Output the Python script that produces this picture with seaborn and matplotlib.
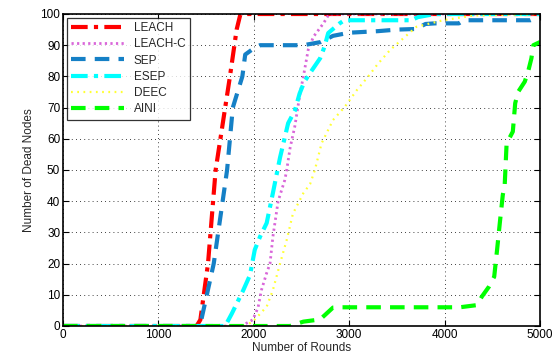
import numpy as np
import pandas as pd
import matplotlib
matplotlib.use("Agg")
import matplotlib.pyplot as plt
import seaborn as sns

# ---- data ----
leach_x = [0, 1400, 1440, 1520, 1600, 1700, 1750, 1820, 1860, 5000]
leach_y = [0, 0, 2, 20, 50, 70, 80, 95, 100, 100]

leachc_x = [0, 1870, 1990, 2045, 2080, 2135, 2170, 2200, 2255, 2325, 2345, 2380, 2430, 2485, 2520, 2570, 2625, 2730, 2790, 5000]
leachc_y = [0, 0, 2, 6, 11.5, 17, 20, 28.6, 40, 46.8, 50, 57, 64, 74.6, 80, 88.5, 92.7, 97, 100, 100]

sep_x = [0, 1400, 1450, 1580, 1720, 1780, 1880, 1910, 2000, 2065, 2520, 2700, 2830, 3000, 3300, 3500, 3700, 3800, 3900, 4150, 4200, 4900, 4980, 5000]
sep_y = [0, 0, 2, 20, 50, 70, 80, 87, 89, 90, 90, 91, 93, 94, 94.5, 95, 95.2, 96.8, 97, 97, 98, 98, 99, 99]

esep_x = [0, 1700, 1770, 1890, 1960, 2010, 2065, 2135, 2200, 2275, 2360, 2430, 2480, 2530, 2610, 2695, 2740, 2780, 2900, 2950, 3650, 3720, 3900, 5000]
esep_y = [0, 0, 4, 11.5, 16.3, 24.4, 28.6, 33, 42.6, 54, 65, 69, 74.5, 78.3, 82, 85.8, 89.4, 93.9, 97, 98, 98, 99, 100, 100]

deec_x = [0, 1900, 1990, 2135, 2200, 2275, 2345, 2410, 2520, 2590, 2640, 2710, 2830, 2955, 3080, 3200, 3300, 3430, 3585, 3705, 3985, 4300, 5000]
deec_y = [0, 0, 1.4, 6.2, 11.5, 20, 27.6, 36, 42.6, 45.5, 50, 58.5, 66, 70.3, 75.6, 80, 84, 88.5, 92.7, 95.9, 98, 99.5, 100]

aini_x = [0, 2380, 2520, 2695, 2745, 2830, 2900, 4160, 4340, 4390, 4465, 4520, 4550, 4580, 4610, 4630, 4650, 4715, 4740, 4770, 4840, 4875, 4910, 4930, 5000]
aini_y = [0, 0, 1.4, 2.1, 3.5, 5.9, 6, 6, 6.7, 9.4, 12.6, 15.8, 24.4, 33.4, 42, 45.2, 58.5, 62.3, 71.4, 75, 78.3, 81.5, 85.8, 90, 91]

series_names = ["LEACH", "LEACH-C", "SEP", "ESEP", "DEEC", "AINI"]
series_x = [leach_x, leachc_x, sep_x, esep_x, deec_x, aini_x]
series_y = [leach_y, leachc_y, sep_y, esep_y, deec_y, aini_y]

x_ticks = [0, 1000, 2000, 3000, 4000, 5000]
y_ticks = [0, 10, 20, 30, 40, 50, 60, 70, 80, 90, 100]

# ---- styles ----
colors = ["#ff0000", "#d966d9", "#1580c6", "#00ffff", "#ffff33", "#00ff00"]
dashes = [(4, 1.5, 1, 1.5), (0.8, 1.2), (3.5, 2.2), (4, 1.5, 1, 1.5), (0.8, 2), (3.5, 2.2)]
widths = [3.0, 2.0, 3.0, 3.0, 1.6, 3.0]

sns.set_theme(style="white")
plt.rcParams["font.family"] = ["Liberation Sans", "DejaVu Sans"]

fig = plt.figure(figsize=(5.59, 3.59), dpi=100)
ax = fig.add_axes([63 / 559, 1 - 326 / 359, 477 / 559, 312 / 359])

for name, xs, ys, c, d, w in zip(series_names, series_x, series_y, colors, dashes, widths):
    df = pd.DataFrame({"x": xs, "y": ys})
    sns.lineplot(data=df, x="x", y="y", ax=ax, color=c, linewidth=w,
                 label=name, estimator=None, sort=False)
    ax.lines[-1].set_dashes(d)

ax.set_xlim(0, 5000)
ax.set_ylim(0, 100)
ax.set_xticks(x_ticks)
ax.set_yticks(y_ticks)
ax.set_xticklabels([str(t) for t in x_ticks], fontsize=8.5)
ax.set_yticklabels([str(t) for t in y_ticks], fontsize=8.5)
ax.set_xlabel("Number of Rounds", fontsize=8.5, labelpad=1)
ax.set_ylabel("Number of Dead Nodes", fontsize=8.5, labelpad=4)
ax.grid(True, color="black", linestyle=(0, (1, 4)), linewidth=0.6)
ax.tick_params(direction="in", length=4, width=0.8, top=True, right=True,
               bottom=True, left=True, pad=2, colors="black")
for s in ax.spines.values():
    s.set_visible(True)
    s.set_color("black")
    s.set_linewidth(1.2)

leg = ax.legend(loc="upper left", fontsize=8.5, handlelength=4.5, frameon=True,
                fancybox=False, edgecolor="black", borderaxespad=0.3,
                labelspacing=0.35, borderpad=0.4, handletextpad=0.8)
leg.get_frame().set_linewidth(0.9)
for h, d in zip(leg.get_lines(), dashes):
    h.set_dashes(d)

fig.savefig("out.png", dpi=100)
